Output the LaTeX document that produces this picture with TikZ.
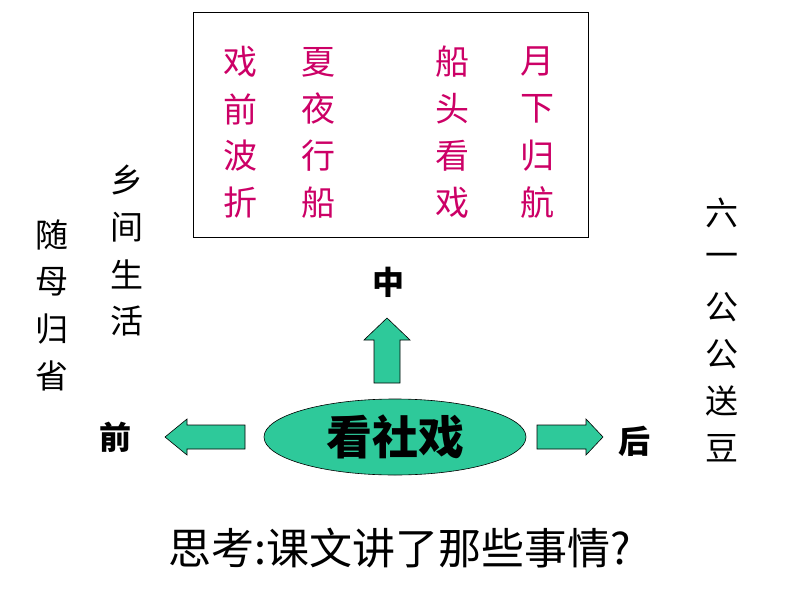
\documentclass[tikz,border=0pt]{standalone}
\usepackage{fontspec}
\setmainfont{Noto Sans CJK SC}
\usetikzlibrary{shapes.geometric}
\definecolor{mag}{HTML}{CC0066}
\definecolor{tg}{HTML}{2EC99A}
\tikzset{
 mt/.style={text=mag,font=\fontsize{34}{34}\selectfont,inner sep=0},
 bt/.style={text=black,font=\fontsize{33}{33}\selectfont,inner sep=0},
 blk/.style={draw=black,fill=tg,line width=0.6pt},
}
\begin{document}
\begin{tikzpicture}[x=1pt,y=-1pt]
\useasboundingbox (0,0) rectangle (794,596);
\node[draw,line width=0.8pt,minimum width=395,minimum height=225,inner sep=0] (box) at (390.5,124.5) {};
\foreach \c/\x in {{戏,前,波,折}/240,{夏,夜,行,船}/318,{船,头,看,戏}/452,{月,下,归,航}/537}{
 \foreach \t [count=\i] in \c { \node[mt] (m\x\i) at (\x,15+47*\i) {\t}; }
}
\foreach \t [count=\i] in {乡,间,生,活}{ \node[bt] (a\i) at (127,133+47*\i) {\t}; }
\foreach \t [count=\i] in {随,母,归,省}{ \node[bt] (b\i) at (52,188+47*\i) {\t}; }
\foreach \t [count=\i] in {六,一,公,公,送,豆}{ \node[bt] (c\i) at (722,166+47*\i) {\t}; }
\node[bt,font=\bfseries\fontsize{32}{32}\selectfont] (zh) at (388,282) {中};
\node[bt,font=\bfseries\fontsize{32}{32}\selectfont] (qian) at (115,437) {前};
\node[bt,font=\bfseries\fontsize{32}{32}\selectfont] (hou) at (634,441) {后};
\node[ellipse,draw=black,fill=tg,line width=0.6pt,minimum width=262,minimum height=76,inner sep=0,font=\bfseries\fontsize{46}{46}\selectfont] (c) at (395,437) {看社戏};
\draw[blk] (387,318) -- (410,340) -- (400,340) -- (400,383) -- (374,383) -- (374,340) -- (364,340) -- cycle;
\draw[blk] (165,437) -- (187,419) -- (187,425) -- (245,425) -- (245,449) -- (187,449) -- (187,455) -- cycle;
\draw[blk] (603,437) -- (586,419) -- (586,425) -- (537,425) -- (537,449) -- (586,449) -- (586,455) -- cycle;
\node[bt,font=\fontsize{43}{43}\selectfont] (q) at (400,548) {思考:课文讲了那些事情?};
\end{tikzpicture}
\end{document}
